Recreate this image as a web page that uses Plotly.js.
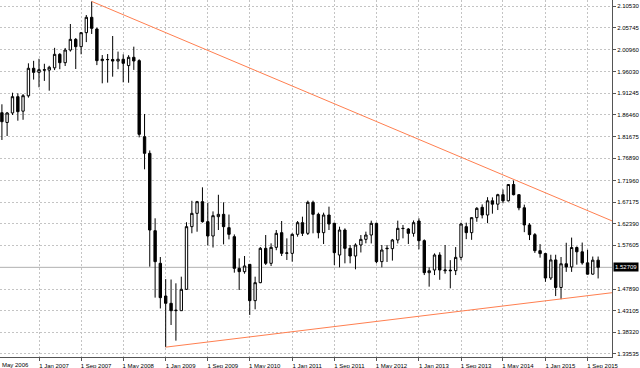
<!DOCTYPE html>
<html><head><meta charset="utf-8">
<script src="https://cdn.plot.ly/plotly-3.0.1.min.js"></script>
<style>html,body{margin:0;padding:0;background:#fff;}#chart{width:640px;height:368px;}</style>
</head><body><div id="chart"></div>
<script>
const months = ['2006-05-01','2006-06-01','2006-07-01','2006-08-01','2006-09-01','2006-10-01','2006-11-01','2006-12-01',
'2007-01-01','2007-02-01','2007-03-01','2007-04-01','2007-05-01','2007-06-01','2007-07-01','2007-08-01','2007-09-01','2007-10-01','2007-11-01','2007-12-01',
'2008-01-01','2008-02-01','2008-03-01','2008-04-01','2008-05-01','2008-06-01','2008-07-01','2008-08-01','2008-09-01','2008-10-01','2008-11-01','2008-12-01',
'2009-01-01','2009-02-01','2009-03-01','2009-04-01','2009-05-01','2009-06-01','2009-07-01','2009-08-01','2009-09-01','2009-10-01','2009-11-01','2009-12-01',
'2010-01-01','2010-02-01','2010-03-01','2010-04-01','2010-05-01','2010-06-01','2010-07-01','2010-08-01','2010-09-01','2010-10-01','2010-11-01','2010-12-01',
'2011-01-01','2011-02-01','2011-03-01','2011-04-01','2011-05-01','2011-06-01','2011-07-01','2011-08-01','2011-09-01','2011-10-01','2011-11-01','2011-12-01',
'2012-01-01','2012-02-01','2012-03-01','2012-04-01','2012-05-01','2012-06-01','2012-07-01','2012-08-01','2012-09-01','2012-10-01','2012-11-01','2012-12-01',
'2013-01-01','2013-02-01','2013-03-01','2013-04-01','2013-05-01','2013-06-01','2013-07-01','2013-08-01','2013-09-01','2013-10-01','2013-11-01','2013-12-01',
'2014-01-01','2014-02-01','2014-03-01','2014-04-01','2014-05-01','2014-06-01','2014-07-01','2014-08-01','2014-09-01','2014-10-01','2014-11-01','2014-12-01',
'2015-01-01','2015-02-01','2015-03-01','2015-04-01','2015-05-01','2015-06-01','2015-07-01','2015-08-01','2015-09-01','2015-10-01','2015-11-01'];

const openP = [1.8245,1.8696,1.8480,1.8690,1.9051,1.8730,1.9070,1.9680,
1.9590,1.9649,1.9640,1.9690,1.9989,1.9804,2.0085,2.0321,2.0159,2.0469,2.0809,2.0550,
1.9849,1.9870,1.9875,1.9840,1.9880,1.9740,1.9923,1.9849,1.8165,1.7796,1.6083,1.5360,
1.4636,1.4474,1.4311,1.4311,1.4784,1.6172,1.6467,1.6726,1.6283,1.5965,1.6393,1.6445,
1.6150,1.5950,1.5249,1.5175,1.5337,1.4533,1.4931,1.5692,1.5360,1.5714,1.6039,1.5581,
1.5581,1.6002,1.6260,1.6024,1.6711,1.6445,1.6039,1.6430,1.6246,1.5544,1.6098,1.5692,
1.5522,1.5766,1.5891,1.5987,1.6246,1.5397,1.5695,1.5685,1.5877,1.6135,1.6120,1.6024,
1.6297,1.5862,1.5153,1.5212,1.5544,1.5195,1.5210,1.5197,1.5492,1.6172,1.6039,1.6371,
1.6600,1.6430,1.6745,1.6670,1.6880,1.6745,1.7105,1.6880,1.6590,1.6210,1.5995,1.5640,
1.5575,1.5035,1.5435,1.4825,1.5350,1.5280,1.5710,1.5615,1.5370,1.5120,1.5430];

const highP = [1.8945,1.8882,1.8712,1.9139,1.9126,1.9110,1.9790,1.9845,
1.9890,1.9780,1.9735,2.0133,2.0015,2.0130,2.0661,2.0350,2.0480,2.0860,2.1161,2.0580,
1.9973,1.9996,2.0395,2.0050,1.9990,1.9970,2.0159,1.9880,1.8668,1.7860,1.6357,1.5500,
1.5010,1.5001,1.4917,1.5064,1.6270,1.6745,1.6742,1.7043,1.6700,1.6510,1.6878,1.6711,
1.6440,1.6000,1.5470,1.5522,1.5340,1.5064,1.5720,1.5987,1.5803,1.6098,1.6297,1.5913,
1.6024,1.6297,1.6393,1.6748,1.6748,1.6482,1.6482,1.6615,1.6260,1.6172,1.6135,1.5766,
1.5803,1.5987,1.6061,1.6305,1.6260,1.5766,1.5766,1.5900,1.6305,1.6209,1.6140,1.6310,
1.6357,1.5890,1.5270,1.5580,1.5605,1.5766,1.5430,1.5720,1.6260,1.6260,1.6380,1.6605,
1.6665,1.6825,1.6820,1.6900,1.6995,1.7110,1.7192,1.6890,1.6660,1.6250,1.6030,1.5785,
1.5590,1.5550,1.5550,1.5500,1.5815,1.5930,1.5735,1.5820,1.5660,1.5510,1.5510];

const lowP = [1.8225,1.8092,1.8180,1.8645,1.8519,1.8540,1.9030,1.9430,
1.9259,1.9400,1.9184,1.9640,1.9660,1.9730,2.0050,1.9664,1.9990,2.0260,2.0440,1.9750,
1.9347,1.9362,1.9494,1.9660,1.9369,1.9360,1.9643,1.8150,1.7442,1.5286,1.4600,1.4360,
1.3503,1.3994,1.3647,1.4310,1.4770,1.6025,1.6060,1.6260,1.5760,1.5710,1.6098,1.5780,
1.5890,1.5153,1.4769,1.5130,1.4216,1.4341,1.4920,1.5323,1.5300,1.5650,1.5522,1.5434,
1.5397,1.5950,1.5965,1.5987,1.6024,1.5913,1.5788,1.6098,1.5323,1.5271,1.5360,1.5360,
1.5227,1.5600,1.5803,1.5800,1.5360,1.5271,1.5390,1.5420,1.5800,1.5913,1.5788,1.5950,
1.5670,1.5100,1.4843,1.5100,1.4995,1.5130,1.4806,1.5100,1.5430,1.5895,1.5880,1.6280,
1.6355,1.6250,1.6460,1.6540,1.6690,1.6730,1.6865,1.6535,1.6050,1.5875,1.5590,1.5485,
1.4950,1.4990,1.4635,1.4565,1.5170,1.5170,1.5330,1.5330,1.5110,1.5110,1.5025];

const closeP = [1.8696,1.8497,1.8690,1.9051,1.8719,1.9073,1.9680,1.9590,
1.9649,1.9640,1.9702,1.9989,1.9804,2.0085,2.0321,2.0159,2.0469,2.0809,2.0565,1.9849,
1.9880,1.9875,1.9840,1.9880,1.9790,1.9923,1.9842,1.8217,1.7796,1.6098,1.5397,1.4600,
1.4474,1.4311,1.4320,1.4784,1.6172,1.6467,1.6726,1.6283,1.5965,1.6415,1.6445,1.6172,
1.6002,1.5249,1.5175,1.5301,1.4533,1.4931,1.5692,1.5360,1.5714,1.6024,1.5581,1.5590,
1.6002,1.6260,1.6024,1.6711,1.6445,1.6039,1.6430,1.6231,1.5596,1.6098,1.5692,1.5522,
1.5766,1.5891,1.5987,1.6246,1.5397,1.5655,1.5685,1.5877,1.6135,1.6130,1.6024,1.6260,
1.5862,1.5153,1.5195,1.5544,1.5212,1.5210,1.5197,1.5492,1.6231,1.6039,1.6371,1.6578,
1.6430,1.6745,1.6670,1.6880,1.6745,1.7105,1.6880,1.6590,1.6210,1.5995,1.5640,1.5575,
1.5035,1.5435,1.4825,1.5350,1.5280,1.5710,1.5615,1.5370,1.5120,1.5430,1.52709];

const xTickDates = ['2006-05-01','2007-01-01','2007-09-01','2008-05-01','2009-01-01','2009-09-01','2010-05-01','2011-01-01',
'2011-09-01','2012-05-01','2013-01-01','2013-09-01','2014-05-01','2015-01-01','2015-09-01'];
const xTickLabels = ['1 May 2006','1 Jan 2007','1 Sep 2007','1 May 2008','1 Jan 2009','1 Sep 2009','1 May 2010','1 Jan 2011',
'1 Sep 2011','1 May 2012','1 Jan 2013','1 Sep 2013','1 May 2014','1 Jan 2015','1 Sep 2015'];
const yTickLabels = ['2.10530','2.05745','2.00960','1.96030','1.91245','1.86460','1.81675','1.76890','1.71960',
'1.67175','1.62390','1.57605','1.47890','1.43105','1.38320','1.33535'];

const upperLineDates = ['2007-11-01','2016-01-20'];
const upperLineValues = [2.1161, 1.6300];
const lowerLineDates = ['2009-01-01','2016-01-20'];
const lowerLineValues = [1.3503, 1.4709];
const currentPrice = 1.52709;
const currentPriceLabel = '1.52709';

const FONT = 'Liberation Sans, Arial, sans-serif';

const traces = [
  {
    type: 'candlestick', x: months, open: openP, high: highP, low: lowP, close: closeP,
    increasing: {line: {color: '#000000', width: 1}, fillcolor: '#ffffff'},
    decreasing: {line: {color: '#000000', width: 1}, fillcolor: '#000000'},
    whiskerwidth: 0, hoverinfo: 'skip', showlegend: false
  },
  {type: 'scatter', mode: 'lines', x: upperLineDates, y: upperLineValues,
   line: {color: '#ff7f50', width: 1}, hoverinfo: 'skip', showlegend: false},
  {type: 'scatter', mode: 'lines', x: lowerLineDates, y: lowerLineValues,
   line: {color: '#ff7f50', width: 1}, hoverinfo: 'skip', showlegend: false}
];

const layout = {
  width: 640, height: 368,
  margin: {l: 0, r: 28, t: 0, b: 11, pad: 0},
  paper_bgcolor: '#ffffff', plot_bgcolor: '#ffffff',
  showlegend: false,
  xaxis: {
    type: 'date', range: ['2006-05-21', '2016-01-20'],
    tickmode: 'array', tickvals: xTickDates, ticktext: xTickLabels,
    showgrid: true, gridcolor: '#c4c4c4', griddash: '2px,2px', gridwidth: 1,
    ticks: 'outside', ticklen: 3, tickcolor: '#555555',
    showline: true, linecolor: '#555555', linewidth: 1,
    tickfont: {family: FONT, size: 6, color: '#000000'},
    ticklabelshift: 15,
    zeroline: false, rangeslider: {visible: false}, fixedrange: true
  },
  yaxis: {
    side: 'right', range: [1.32849, 2.11925],
    tickmode: 'array', tickvals: yTickLabels.map(Number), ticktext: yTickLabels,
    showgrid: true, gridcolor: '#c4c4c4', griddash: '2px,2px', gridwidth: 1,
    ticks: 'outside', ticklen: 3, tickcolor: '#555555',
    showline: true, linecolor: '#555555', linewidth: 1,
    tickfont: {family: FONT, size: 6, color: '#000000'},
    zeroline: false, fixedrange: true
  },
  shapes: [
    {type: 'line', xref: 'paper', x0: 0, x1: 1, yref: 'y', y0: currentPrice, y1: currentPrice,
     line: {color: '#b0b0b0', width: 1}, layer: 'below'}
  ],
  annotations: [
    {xref: 'paper', x: 1, xanchor: 'left', xshift: 1, yref: 'y', y: currentPrice, yanchor: 'middle',
     text: currentPriceLabel, showarrow: false, bgcolor: '#000000', borderpad: 1,
     font: {family: FONT, size: 6, color: '#ffffff'}},
    {xref: 'paper', x: 0, xanchor: 'left', yref: 'paper', y: 0, yanchor: 'top', yshift: -3,
     text: 'May 2006', showarrow: false, font: {family: FONT, size: 6, color: '#000000'}}
  ]
};

Plotly.newPlot('chart', traces, layout, {staticPlot: true, displayModeBar: false});
</script>
</body></html>
